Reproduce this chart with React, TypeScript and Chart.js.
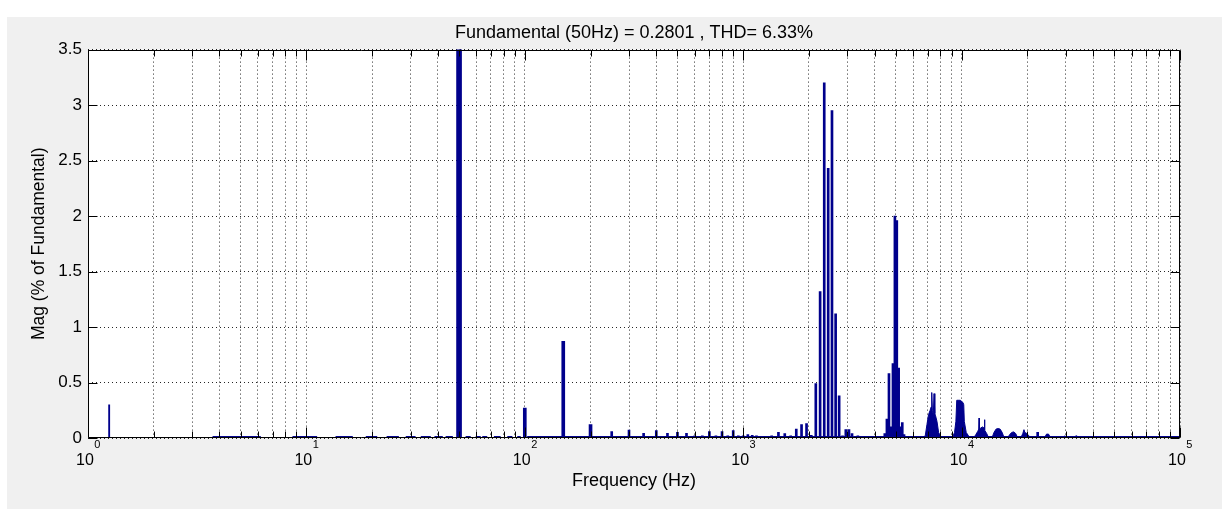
import React, { useEffect, useRef } from 'react';
import { Chart, registerables } from 'chart.js';

Chart.register(...registerables);

const TITLE = 'Fundamental (50Hz) = 0.2801 , THD= 6.33%';
const X_TITLE = 'Frequency (Hz)';
const Y_TITLE = 'Mag (% of Fundamental)';

const xDecades = [1, 10, 100, 1000, 10000, 100000];
const xDecadeExponents = ['0', '1', '2', '3', '4', '5'];
const xMinorSteps = [2, 3, 4, 5, 6, 7, 8, 9];
const yTickValues = [0, 0.5, 1, 1.5, 2, 2.5, 3, 3.5];
const yTickLabels = ['0', '0.5', '1', '1.5', '2', '2.5', '3', '3.5'];

// fundamental (100 % of itself, clipped by the 3.5 axis limit)
const fundamentalFreq = [50];
const fundamentalMag = [100];

// sub-harmonic line
const subFreq = [1.25];
const subMag = [0.3];

// low order harmonics
const lowHarmFreq = [100, 150, 200];
const lowHarmMag = [0.27, 0.87, 0.12];

// individual harmonics
const harmFreq = [250, 300, 350, 400, 450, 500, 550, 600, 650, 700, 750, 800, 850, 900, 950, 1000, 1050, 1100, 1150, 1350, 1450, 1550, 1650, 1750, 1850, 1950, 2050, 2150, 2250, 2350, 2450, 2550, 2650, 2750, 2850, 2950, 3050, 3150, 3350, 4450, 4550, 4650, 4750, 4850, 4950, 5050, 5150, 5250, 5350, 5450, 22300];
const harmMag = [0.057, 0.072, 0.042, 0.066, 0.042, 0.051, 0.042, 0.02, 0.02, 0.057, 0.02, 0.057, 0.02, 0.066, 0.02, 0.02, 0.03, 0.025, 0.02, 0.02, 0.05, 0.04, 0.02, 0.08, 0.12, 0.13, 0.025, 0.49, 1.32, 3.2, 2.43, 2.95, 1.12, 0.38, 0.02, 0.075, 0.075, 0.04, 0.02, 0.04, 0.17, 0.58, 0.1, 0.67, 2.0, 1.96, 0.63, 0.1, 0.14, 0.03, 0.05];

// low-level floor (null = gap)
const floorFreq = [3.72, 6.18, 7.4, 8.64, 11.2, 12.4, 13.6, 16.3, 17.5, 18.7, 21.1, 22.2, 23.3, 26.5, 27.5, 28.5, 31.6, 32.5, 33.4, 37.1, 37.8, 38.6, 42.1, 42.7, 43.4, 46.8, 50, 53.6, 56.5, 58, 59.6, 62.8, 63.3, 63.9, 67.3, 70, 72.2, 77.5, 80, 83.2, 87.7, 90, 92.4, 95.7, 99, 102.6, 100000];
const floorMag = [0.013, 0.013, null, 0.013, 0.013, null, 0.013, 0.013, null, 0.013, 0.013, null, 0.013, 0.013, null, 0.013, 0.013, null, 0.013, 0.013, null, 0.013, 0.013, null, 0.013, 0.013, null, 0.013, 0.013, null, 0.013, 0.013, null, 0.013, 0.013, null, 0.013, 0.013, null, 0.013, 0.013, null, 0.013, 0.013, null, 0.013, 0.013];

// dense high-frequency bands
const bandFreq = [6600, 6816, 6938, 7056, 7178, 7254, 7300, 7350, 7420, 7480, 7540, 7600, 7713, 7848, 7989, 8200, 9057, 9282, 9415, 9500, 9860, 10146, 10230, 10290, 10500, 10750, 10940, 11370, 11610, 11860, 11980, 12020, 12070, 12240, 12460, 12670, 12720, 12790, 13030, 13310, 13770, 14070, 14380, 14690, 15010, 15340, 15670, 16240, 16590, 16950, 17320, 17690, 18070, 18660, 19060, 19300, 19480, 19900, 20330, 20780, 23960, 24480, 25010, 25550, 29300, 29700, 30100, 32200, 33500, 35000];
const bandMag = [0, 0.02, 0.12, 0.21, 0.25, 0.28, 0.41, 0.25, 0.21, 0.40, 0.22, 0.2, 0.15, 0.05, 0.02, 0, 0, 0.05, 0.15, 0.34, 0.34, 0.32, 0.3, 0.15, 0.05, 0.02, 0, 0, 0.03, 0.06, 0.08, 0.18, 0.08, 0.09, 0.1, 0.09, 0.165, 0.07, 0.04, 0, 0, 0.05, 0.08, 0.085, 0.08, 0.05, 0, 0, 0.03, 0.05, 0.055, 0.04, 0, 0, 0.04, 0.075, 0.05, 0.04, 0.02, 0, 0, 0.035, 0.035, 0, 0, 0.02, 0, 0, 0.02, 0];

const NAVY = '#00008C';
const FONT = "'Liberation Sans', Arial, Helvetica, sans-serif";

const pts = (xs: number[], ys: (number | null)[]) => xs.map((x, i) => ({ x, y: ys[i] }));

const xTickValues: number[] = [];
xDecades.forEach((d, i) => {
  xTickValues.push(d);
  if (i < xDecades.length - 1) xMinorSteps.forEach((m) => xTickValues.push(d * m));
});

const matlabAxes = {
  id: 'matlabAxes',
  beforeDraw(chart: any) {
    const { ctx, chartArea: a } = chart;
    ctx.save();
    ctx.fillStyle = '#ffffff';
    ctx.fillRect(a.left, a.top, a.right - a.left, a.bottom - a.top);
    ctx.restore();
  },
  afterDraw(chart: any) {
    const { ctx, chartArea: a, scales } = chart;
    const xs = scales.x;
    const ys = scales.y;
    const L = Math.round(a.left) + 0.5;
    const R = Math.round(a.right) - 0.5;
    const T = Math.round(a.top) + 0.5;
    const B = Math.round(a.bottom) - 0.5;
    ctx.save();
    ctx.strokeStyle = '#000';
    ctx.lineWidth = 1;
    ctx.setLineDash([]);
    ctx.beginPath();
    ctx.rect(L, T, R - L, B - T);
    ctx.stroke();
    ctx.beginPath();
    xTickValues.forEach((v) => {
      const px = Math.round(xs.getPixelForValue(v)) + 0.5;
      const len = xDecades.includes(v) ? 10 : 6;
      ctx.moveTo(px, B);
      ctx.lineTo(px, B - len);
      ctx.moveTo(px, T);
      ctx.lineTo(px, T + len);
    });
    yTickValues.forEach((v) => {
      const py = Math.round(ys.getPixelForValue(v)) + 0.5;
      ctx.moveTo(L, py);
      ctx.lineTo(L + 9, py);
      ctx.moveTo(R, py);
      ctx.lineTo(R - 9, py);
    });
    ctx.stroke();
    ctx.fillStyle = '#000';
    ctx.textBaseline = 'middle';
    ctx.textAlign = 'left';
    xDecades.forEach((v, i) => {
      const px = xs.getPixelForValue(v);
      ctx.font = `16px ${FONT}`;
      const w1 = ctx.measureText('10').width;
      ctx.font = `11px ${FONT}`;
      const w2 = ctx.measureText(xDecadeExponents[i]).width;
      const left = px - (w1 + w2) / 2;
      ctx.font = `16px ${FONT}`;
      ctx.fillText('10', left, a.bottom + 23);
      ctx.font = `11px ${FONT}`;
      ctx.fillText(xDecadeExponents[i], left + w1 + 0.5, a.bottom + 7);
    });
    ctx.restore();
  },
};

export default function App() {
  const ref = useRef<HTMLCanvasElement>(null);

  useEffect(() => {
    if (!ref.current) return;
    const barCommon = { type: 'bar' as const, grouped: false, backgroundColor: NAVY, borderWidth: 0, clip: 0 };
    const chart = new Chart(ref.current, {
      type: 'bar',
      data: {
        datasets: [
          { ...barCommon, label: 'fundamental', data: pts(fundamentalFreq, fundamentalMag), barThickness: 5 },
          { ...barCommon, label: 'sub', data: pts(subFreq, subMag), barThickness: 1.2 },
          { ...barCommon, label: 'low', data: pts(lowHarmFreq, lowHarmMag), barThickness: 3 },
          { ...barCommon, label: 'harm', data: pts(harmFreq, harmMag), barThickness: 2 },
          {
            type: 'line' as const, label: 'band', data: pts(bandFreq, bandMag), borderColor: NAVY, backgroundColor: NAVY,
            borderWidth: 1, fill: 'origin', pointRadius: 0, tension: 0, clip: 0,
          },
          {
            type: 'line' as const, label: 'floor', data: pts(floorFreq, floorMag), borderColor: NAVY, backgroundColor: NAVY,
            borderWidth: 1, fill: 'origin', pointRadius: 0, tension: 0, spanGaps: false, clip: 0,
          },
        ] as any,
      },
      options: {
        responsive: false,
        devicePixelRatio: 1,
        animation: false,
        events: [],
        layout: { padding: { top: 0, right: 42, bottom: 0, left: 0 } },
        plugins: {
          legend: { display: false },
          tooltip: { enabled: false },
          title: {
            display: true,
            fullSize: false,
            text: TITLE,
            color: '#000',
            font: { family: FONT, size: 18, weight: 'normal' },
            padding: { top: 5, bottom: 6 },
          },
        },
        scales: {
          x: {
            type: 'logarithmic',
            min: 1,
            max: 100000,
            offset: false,
            afterBuildTicks: (s: any) => {
              s.ticks = xTickValues.map((v) => ({ value: v, major: xDecades.includes(v) }));
            },
            afterFit: (s: any) => {
              s.height = 71;
            },
            ticks: { display: false },
            grid: { display: true, color: 'rgba(0,0,0,0.85)', lineWidth: 1, drawTicks: false, offset: false },
            border: { display: false, dash: [1, 3] },
            title: {
              display: true,
              text: X_TITLE,
              color: '#000',
              font: { family: FONT, size: 18 },
              padding: { top: 0, bottom: 17 },
            },
          },
          y: {
            type: 'linear',
            min: 0,
            max: 3.5,
            afterBuildTicks: (s: any) => {
              s.ticks = yTickValues.map((v) => ({ value: v }));
            },
            afterFit: (s: any) => {
              s.width = 81;
            },
            ticks: {
              color: '#000',
              font: { family: FONT, size: 17 },
              padding: 6,
              callback: (_v: any, i: number) => yTickLabels[i],
            },
            grid: { display: true, color: 'rgba(0,0,0,0.85)', lineWidth: 1, drawTicks: false },
            border: { display: false, dash: [1, 3] },
            title: {
              display: true,
              text: Y_TITLE,
              color: '#000',
              font: { family: FONT, size: 17.5 },
              padding: { top: 22, bottom: 0 },
            },
          },
        },
      } as any,
      plugins: [matlabAxes],
    });
    return () => chart.destroy();
  }, []);

  return (
    <div style={{ position: 'absolute', left: 0, top: 0, width: 1222, height: 509, background: '#fff', overflow: 'hidden' }}>
      <div style={{ position: 'absolute', left: 7, top: 17, width: 1215, height: 492, background: '#F0F0F0' }}>
        <canvas ref={ref} width={1215} height={492} style={{ display: 'block', width: 1215, height: 492 }} />
      </div>
    </div>
  );
}
